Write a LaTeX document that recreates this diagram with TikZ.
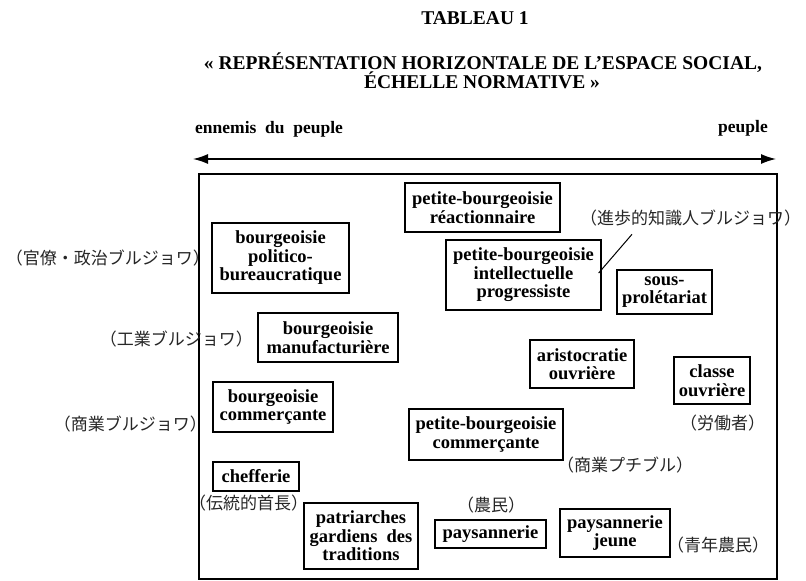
\documentclass[tikz,border=0pt]{standalone}
\usepackage{fontspec}
\setmainfont{Liberation Serif}
\newfontfamily\jp{Noto Sans CJK JP}
\usetikzlibrary{arrows.meta,calc}
\tikzset{
  cls/.style={draw, line width=1.3pt, align=center, font=\bfseries\fontsize{18.5}{18.5}\selectfont, inner sep=1pt},
  jpl/.style={font=\jp\fontsize{17}{17}\selectfont, text=black!85, inner sep=0pt},
  ttl/.style={font=\bfseries\fontsize{19.5}{19}\selectfont, inner sep=0pt, align=center},
  axl/.style={font=\bfseries\fontsize{17.5}{17}\selectfont, inner sep=0pt}
}
\begin{document}
\begin{tikzpicture}[x=1pt,y=-1pt]
\useasboundingbox (0,0) rectangle (806,581);
% titles
\node[ttl] (t1) at (475,18) {TABLEAU 1};
\node[ttl] (t2) at (483,63) {« REPRÉSENTATION HORIZONTALE DE L’ESPACE SOCIAL,};
\node[ttl] (t3) at (482,80) {ÉCHELLE NORMATIVE »};
% axis
\node[axl, anchor=west] (enn) at (195,129) {ennemis\ \ du\ \ peuple};
\node[axl, anchor=east] (peu) at (768,128) {peuple};
\coordinate (al) at (193,159);
\coordinate (ar) at (776,159);
\draw[line width=1.4pt, {Latex[length=15pt,width=10pt]}-{Latex[length=15pt,width=10pt]}] (al) -- (ar);
% frame
\node[draw, line width=1.2pt, minimum width=578pt, minimum height=405pt, inner sep=0pt] (frame) at (488,376.5) {};
% boxes
\node[cls, minimum width=155pt, minimum height=49pt] (pbr) at (482.5,207.5) {petite-bourgeoisie\\réactionnaire};
\node[cls, minimum width=137pt, minimum height=70pt] (bpb) at (280.5,258) {bourgeoisie\\politico-\\bureaucratique};
\node[cls, minimum width=155pt, minimum height=70pt] (pbi) at (523.5,275) {petite-bourgeoisie\\intellectuelle\\progressiste};
\node[cls, minimum width=95pt, minimum height=44pt] (spr) at (664.5,292) {sous-\\prolétariat};
\node[cls, minimum width=140pt, minimum height=49pt] (bma) at (328,337.5) {bourgeoisie\\manufacturière};
\node[cls, minimum width=104pt, minimum height=48pt] (aro) at (582,364) {aristocratie\\ouvrière};
\node[cls, minimum width=76pt, minimum height=47pt] (clo) at (712,380.5) {classe\\ouvrière};
\node[cls, minimum width=120pt, minimum height=50pt] (bco) at (273,407) {bourgeoisie\\commerçante};
\node[cls, minimum width=154pt, minimum height=51pt] (pbc) at (486,434.5) {petite-bourgeoisie\\commerçante};
\node[cls, minimum width=86pt, minimum height=29pt] (chf) at (256,476.5) {chefferie};
\node[cls, minimum width=114pt, minimum height=66pt] (pat) at (361,536) {patriarches\\gardiens\ \ des\\traditions};
\node[cls, minimum width=111pt, minimum height=28pt] (pay) at (490.5,534) {paysannerie};
\node[cls, minimum width=110pt, minimum height=48pt] (pyj) at (615,533) {paysannerie\\jeune};
% japanese labels
\node[jpl, anchor=east] (j1) at (210,258) {（官僚・政治ブルジョワ）};
\node[jpl, anchor=east] (j2) at (253,339) {（工業ブルジョワ）};
\node[jpl, anchor=east] (j3) at (207,424) {（商業ブルジョワ）};
\node[jpl, anchor=west] (j4) at (189,503) {（伝統的首長）};
\node[jpl, anchor=west] (j5) at (580,218) {（進歩的知識人ブルジョワ）};
\node[jpl, anchor=west] (j6) at (680,423) {（労働者）};
\node[jpl, anchor=west] (j7) at (557,465) {（商業プチブル）};
\node[jpl, anchor=west] (j8) at (457,505) {（農民）};
\node[jpl, anchor=west] (j9) at (667,545) {（青年農民）};
% leader
\coordinate (lead) at ($(j5.south west)+(52,8)$);
\draw[line width=1pt] ([xshift=-3pt,yshift=2pt]pbi.east) -- (lead);
\end{tikzpicture}
\end{document}
